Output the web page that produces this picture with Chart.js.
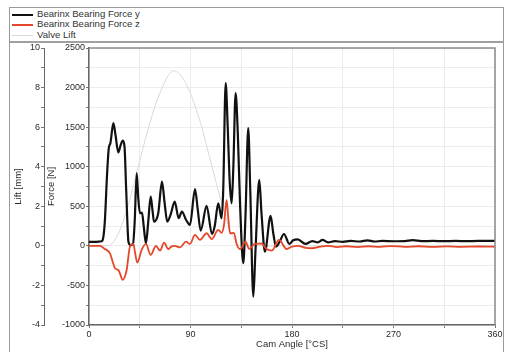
<!DOCTYPE html>
<html>
<head>
<meta charset="utf-8">
<script src="https://cdn.jsdelivr.net/npm/chart.js@4"></script>
<style>
  html, body { margin: 0; padding: 0; background: #fff; overflow: hidden; }
  body { width: 508px; height: 352px; position: relative; font-family: "Liberation Sans", Arial, sans-serif; }
  #frame { position: absolute; left: 9px; top: 7px; width: 495px; height: 360px; border: 1px solid #9a9a9a; box-sizing: border-box; }
  #legend { position: absolute; left: 10px; top: 8px; width: 494px; height: 33px; border-bottom: 2px solid #a0a0a0; }
  .item { position: absolute; left: 2px; height: 10px; font-size: 9.6px; line-height: 10px; color: #333; }
  .item span { position: absolute; left: 0; top: 5px; width: 21px; }
  .item b { position: absolute; left: 25px; top: 0; font-weight: normal; white-space: nowrap; }
  #wrap { position: absolute; left: 0; top: 0; width: 508px; height: 352px; }
</style>
</head>
<body>
<div id="frame"></div>
<div id="legend"></div>
<div id="wrap"><canvas id="chart" width="508" height="352"></canvas></div>
<script>
// ── Data ────────────────────────────────────
const angleY = [0, 5, 10, 12, 14, 16, 17.5, 19, 21.6, 23.5, 26, 28, 30, 31.5, 33, 35, 37, 39, 40.5, 42.3, 43.7, 45.2, 47, 48.5, 50.5, 52.5, 54.7, 56.3, 57.6, 61.4, 64.7, 67, 69.4, 72.5, 76, 79.5, 82.4, 86, 89.5, 94, 96.5, 99, 104.3, 109, 111.5, 114.6, 117.6, 119, 121.2, 123, 124.8, 126.5, 128, 130, 132, 134, 136.8, 138.8, 141.2, 143, 145.7, 147.5, 151, 153, 156, 161, 163.5, 165.8, 169, 172.9, 177.6, 181, 185, 192, 198, 203, 207, 212, 218, 225, 232, 240, 247, 253, 260, 270, 280, 287, 295, 305, 315, 325, 335, 345, 360];
const forceY = [50, 50, 55, 70, 300, 900, 1230, 1300, 1550, 1400, 1180, 1270, 1330, 1250, 700, 50, 10, 20, 300, 918, 600, 412, 420, 250, 30, 300, 622, 450, 306, 412, 812, 550, 306, 400, 559, 349, 432, 330, 264, 716, 450, 192, 504, 150, 250, 538, 349, 700, 2055, 1500, 800, 538, 1000, 1929, 1400, 500, -220, 400, 1487, 700, -642, -100, 833, 400, -73, 378, 150, -10, 50, 150, 24, 70, 83, 24, 60, 45, 75, 45, 60, 50, 62, 55, 70, 55, 62, 58, 60, 72, 60, 62, 60, 62, 60, 62, 62];

const angleZ = [0, 5, 9.8, 14, 18.6, 21, 23, 26, 27.5, 29.8, 31.5, 33.4, 36.3, 39.3, 41, 42.8, 46.7, 50.5, 54.7, 59.4, 63, 66.5, 70.3, 73, 76, 80.7, 86, 89.5, 94, 98.4, 104.3, 108.8, 114.6, 117.6, 119.7, 122, 123.5, 125, 128.5, 130.9, 133.9, 138.9, 142, 147, 153, 157.5, 162, 168.5, 175.2, 180, 185.5, 192, 198, 205, 212, 220, 228, 238, 248, 258, 268, 280, 292, 305, 318, 330, 345, 360];
const forceZ = [0, 0, 0, -40, -94, -200, -283, -305, -350, -431, -400, -305, -10, 24, -100, -212, -52, 24, -115, 0, -60, 40, -40, -10, 0, -20, 53, 24, 138, 75, 159, 85, 201, 165, 264, 580, 350, 159, 165, 24, -40, 53, -40, 24, 30, -40, -60, 75, -40, -10, 0, -25, -30, -10, 0, -15, -5, -15, -5, -12, -3, -12, -5, -12, -6, -12, -8, -10];

const liftAngle = [0, 15, 20, 25, 30, 35, 40, 45, 50, 55, 60, 65, 70, 75, 80, 85, 90, 95, 100, 105, 110, 115, 120, 125, 130, 135, 360];
const lift = [0, 0, 0.1, 0.5, 1.2, 2.1, 3.2, 4.3, 5.4, 6.4, 7.3, 8.0, 8.6, 8.85, 8.7, 8.3, 7.7, 6.9, 6.0, 4.9, 3.8, 2.7, 1.7, 0.8, 0.25, 0, 0];

const seriesNames = ['Bearinx Bearing Force y', 'Bearinx Bearing Force z', 'Valve Lift'];
const seriesColors = ['#111111', '#e5472b', '#d9d9d9'];
const seriesWidths = [2.2, 1.8, 1];

const FONT = { family: '"Liberation Sans", Arial, sans-serif', size: 9 };
const TXT = '#2a2a2a';

const toPoints = (xs, ys) => xs.map((x, i) => ({ x: x, y: ys[i] }));

// ── Legend HTML ─────────────────
const legendEl = document.getElementById('legend');
seriesNames.forEach((name, i) => {
    const row = document.createElement('div');
    row.className = 'item';
    row.style.top = (1 + i * 10.3) + 'px';
    row.innerHTML = `<span style="border-top:${seriesWidths[i] < 1.5 ? 1 : 2}px solid ${seriesColors[i]}"></span><b>${name}</b>`;
    legendEl.appendChild(row);
});

// kotak tepi atas/kanan area plot
const areaBorder = {
    id: 'areaBorder',
    afterDraw(chart) {
        const { ctx, chartArea: a } = chart;
        ctx.save();
        ctx.strokeStyle = '#8a8a8a';
        ctx.lineWidth = 1.5;
        ctx.beginPath();
        ctx.moveTo(a.left, a.top);
        ctx.lineTo(a.right, a.top);
        ctx.lineTo(a.right, a.bottom);
        ctx.stroke();
        ctx.restore();
    }
};

new Chart(document.getElementById('chart').getContext('2d'), {
    type: 'line',
    data: {
        datasets: [
            {
                label: seriesNames[1], data: toPoints(angleZ, forceZ), yAxisID: 'yF', order: 0,
                borderColor: seriesColors[1], borderWidth: seriesWidths[1]
            },
            {
                label: seriesNames[0], data: toPoints(angleY, forceY), yAxisID: 'yF', order: 1,
                borderColor: seriesColors[0], borderWidth: seriesWidths[0]
            },
            {
                label: seriesNames[2], data: toPoints(liftAngle, lift), yAxisID: 'yL', order: 2,
                borderColor: seriesColors[2], borderWidth: seriesWidths[2]
            }
        ]
    },
    options: {
        responsive: false,
        animation: false,
        parsing: true,
        layout: { padding: { left: 10, top: 48, right: 13, bottom: 0 } },
        elements: {
            point: { radius: 0 },
            line: { cubicInterpolationMode: 'monotone', fill: false }
        },
        plugins: { legend: { display: false }, tooltip: { enabled: false } },
        scales: {
            x: {
                type: 'linear', min: 0, max: 360,
                ticks: {
                    stepSize: 45, autoSkip: false, maxRotation: 0, padding: 1,
                    color: TXT, font: FONT,
                    callback: (v) => (v % 90 === 0 ? v : '')
                },
                grid: { color: '#ececec', tickColor: '#777', tickLength: 3 },
                border: { color: '#666', width: 1.5 },
                title: { display: true, text: 'Cam Angle [°CS]', color: TXT, font: { ...FONT, size: 9.5 }, padding: { top: 1, bottom: 2 } },
                afterFit: (s) => { s.height = 27; }
            },
            yF: {
                position: 'left', weight: 0, min: -1000, max: 2500,
                ticks: {
                    stepSize: 250, autoSkip: false, padding: 1, color: TXT, font: FONT,
                    callback: (v) => (v % 500 === 0 ? v : '')
                },
                grid: { color: '#ececec', tickColor: '#777', tickLength: 3 },
                border: { color: '#666', width: 1.5 },
                title: { display: true, text: 'Force [N]', color: TXT, font: { ...FONT, size: 9.5 }, padding: { top: 2, bottom: 0 } },
                afterFit: (s) => { s.width = 45; }
            },
            yL: {
                position: 'left', weight: 1, min: -4, max: 10,
                ticks: {
                    stepSize: 1, autoSkip: false, padding: 1, color: TXT, font: FONT,
                    callback: (v) => (v % 2 === 0 ? v : '')
                },
                grid: { drawOnChartArea: false, tickColor: '#777', tickLength: 3 },
                border: { color: '#666', width: 1 },
                title: { display: true, text: 'Lift [mm]', color: TXT, font: { ...FONT, size: 9.5 }, padding: { top: 3, bottom: 0 } },
                afterFit: (s) => { s.width = 34; }
            }
        }
    },
    plugins: [areaBorder]
});
</script>
</body>
</html>
